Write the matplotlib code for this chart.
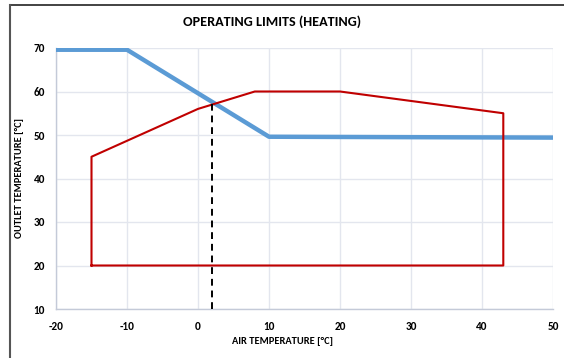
import matplotlib
matplotlib.use("Agg")
import matplotlib.pyplot as plt
from matplotlib.lines import Line2D

# Data
limit_x = [-15, -15, 0, 2, 8, 20, 43, 43, -15]
limit_y = [20, 45, 56, 57, 60, 60, 55, 20, 20]
curve_x = [-20, -10, 10, 50]
curve_y = [69.6, 69.6, 49.6, 49.4]
dash_x = [2, 2]
dash_y = [10, 57.2]
xticks = [-20, -10, 0, 10, 20, 30, 40, 50]
yticks = [10, 20, 30, 40, 50, 60, 70]

plt.rcParams['font.family'] = ['Carlito', 'Liberation Sans Narrow', 'Lato', 'DejaVu Sans']
plt.rcParams['axes.unicode_minus'] = False

fig = plt.figure(figsize=(5.64, 3.58), dpi=100)
ax = fig.add_axes([56/564, 1 - 309/358, (553-56)/564, (309-48)/358])

ax.plot(curve_x, curve_y, color='#5b9bd5', lw=3.2, solid_capstyle='butt', zorder=3)
ax.plot(limit_x, limit_y, color='#c00000', lw=1.5, zorder=4)
ax.plot(dash_x, dash_y, color='black', lw=1.4, ls=(0, (3.5, 2.5)), zorder=5)

ax.set_xlim(-20, 50)
ax.set_ylim(10, 70)
ax.set_xticks(xticks)
ax.set_yticks(yticks)
ax.grid(True, color='#e3e6ee', lw=1.0, zorder=0)
ax.set_axisbelow(True)
for s in ['top', 'right']:
    ax.spines[s].set_visible(False)
for s in ['left', 'bottom']:
    ax.spines[s].set_color('#c4cad8')
    ax.spines[s].set_linewidth(1.0)
ax.tick_params(length=0, labelsize=8)
ax.tick_params(axis='x', pad=8.5)
ax.tick_params(axis='y', pad=8)
for lbl in ax.get_xticklabels() + ax.get_yticklabels():
    lbl.set_fontweight('bold')

ax.set_xlabel('AIR TEMPERATURE [°C]', fontsize=7.5, fontweight='bold')
ax.xaxis.set_label_coords((282 - 56) / 497, -(342 - 309) / 261)
ax.set_ylabel('OUTLET TEMPERATURE [°C]', fontsize=7.5, fontweight='bold')
ax.yaxis.set_label_coords((20 - 56) / 497, 0.5)
ax.xaxis.label.set_va('center')
ax.yaxis.label.set_va('center')
fig.text(272/564, 1 - 22/358, 'OPERATING LIMITS (HEATING)', ha='center', va='center',
         fontsize=10.2, fontweight='bold')

# figure frame
fig.add_artist(Line2D([9.5/564, 1], [1 - 5/358, 1 - 5/358], transform=fig.transFigure, color='#222222', lw=1.2))
fig.add_artist(Line2D([9.5/564, 9.5/564], [0, 1 - 5/358], transform=fig.transFigure, color='#555555', lw=1.5))

fig.savefig('out.png', dpi=100)
